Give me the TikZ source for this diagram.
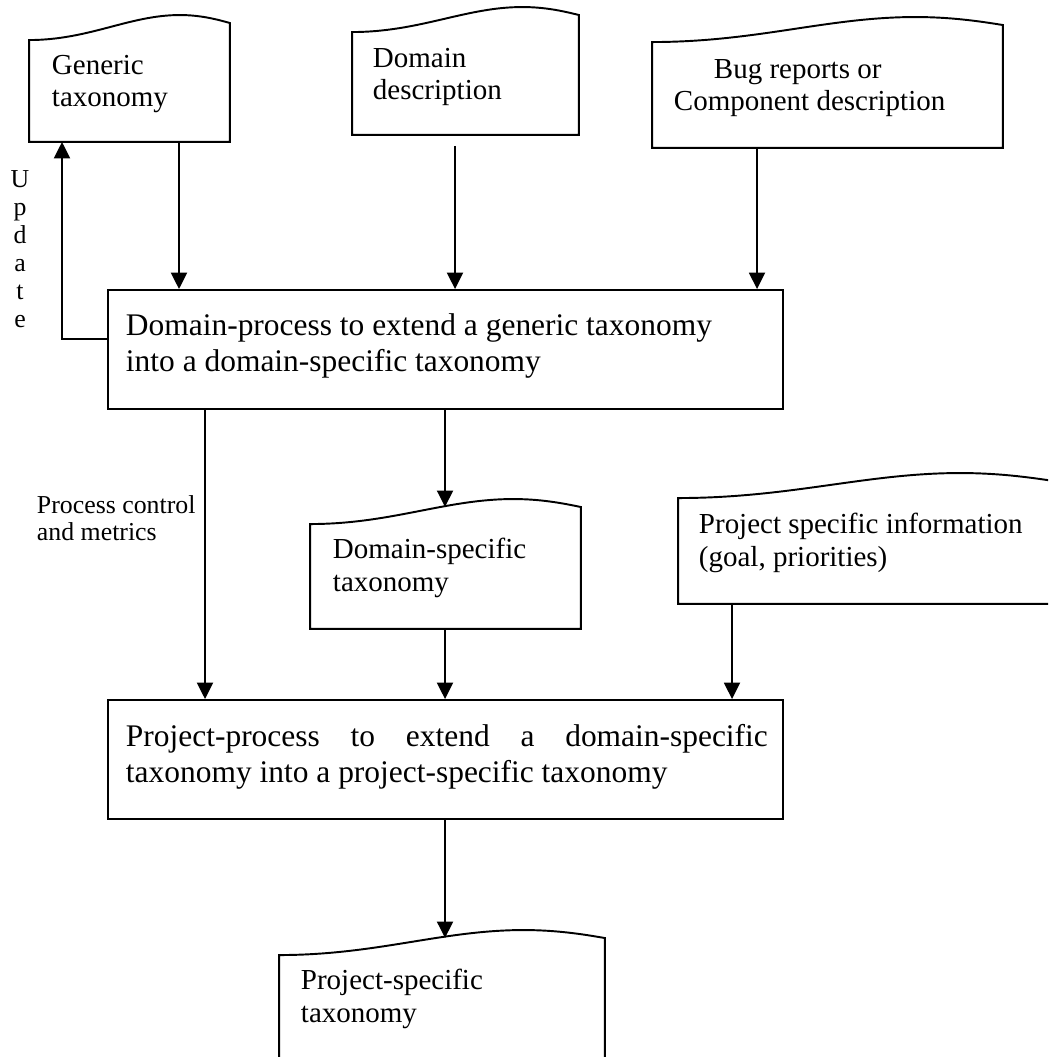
\documentclass[tikz,border=0pt]{standalone}
\usepackage{fontspec}
\setmainfont{Liberation Serif}
\usetikzlibrary{arrows.meta,calc}

% document symbol with a wavy top, drawn round an empty node
\newcommand{\doctop}[1]{%
  \draw (#1.south west) -- (#1.north west)
    .. controls ($(#1.north west)!0.3!(#1.north east)$)
           and ($(#1.north west)!0.5!(#1.north east)+(0,-25)$)
    .. ($(#1.north west)!0.75!(#1.north east)+(0,-25)$)
    .. controls ($(#1.north west)!0.85!(#1.north east)+(0,-25)$)
           and ($(#1.north west)!0.93!(#1.north east)+(0,-21)$)
    .. ($(#1.north east)+(0,-17)$) -- (#1.south east) -- cycle;}

\begin{document}
\begin{tikzpicture}[x=0.02cm,y=-0.02cm,line width=1.1pt,
    flow/.style={-{Triangle[width=0.32cm,length=0.33cm]}},
    docbody/.style={inner sep=0pt},
    procbox/.style={draw,inner sep=0pt,minimum width=13.5cm,minimum height=2.38cm},
    doctext/.style={anchor=base west,align=left,inner sep=0pt,font=\fontsize{16.5}{18.7}\selectfont},
    boxtext/.style={anchor=base west,align=left,inner sep=0pt,font=\fontsize{17.9}{20.4}\selectfont},
    smalltext/.style={anchor=base west,align=left,inner sep=0pt,font=\fontsize{14.7}{15.3}\selectfont}]

    \useasboundingbox (0,0) rectangle (1048,1057);
    \begin{scope}
        \clip (0,0) rectangle (1048,1057);

        % documents
        \node[docbody,minimum width=3.98cm,minimum height=2cm] (gen) at (129.5,91) {};
        \node[docbody,minimum width=4.5cm,minimum height=2.02cm] (ddesc) at (465.5,83.5) {};
        \node[docbody,minimum width=6.98cm,minimum height=2.08cm] (bug) at (827.5,95) {};
        \node[docbody,minimum width=5.38cm,minimum height=2.06cm] (dspec) at (445.5,576.5) {};
        \node[docbody,minimum width=7.48cm,minimum height=2.08cm] (pinfo) at (866,551) {};
        \node[docbody,minimum width=6.48cm,minimum height=2.88cm] (pspec) at (442,1028) {};

        \doctop{gen}
        \doctop{ddesc}
        \doctop{bug}
        \doctop{dspec}
        \doctop{pinfo}
        \doctop{pspec}

        % base of a two-line node is its last line
        \node[doctext] (gentxt) at (51,107) {Generic\\taxonomy};
        \node[doctext] (ddtxt) at (372,100) {Domain\\description};
        \node[doctext] (bugtxt) at (673,111) {\hspace{0.8cm}Bug reports or\\Component description};
        \node[doctext] (dstxt) at (332,591) {Domain-specific\\taxonomy};
        \node[doctext] (pitxt) at (698,566) {Project specific information\\(goal, priorities)};
        \node[doctext] (pstxt) at (300,1022) {Project-specific\\taxonomy};

        % processes
        \node[procbox] (dproc) at (445.5,349.5) {};
        \node[procbox] (pproc) at (445.5,759.5) {};

        \node[boxtext] (dptxt) at (125,371)
            {Domain-process to extend a generic taxonomy\\into a domain-specific taxonomy};
        \node[boxtext] (pptxt) at (125,782)
            {\hbox to 12.84cm{Project-process\hfill to\hfill extend\hfill a\hfill domain-specific}\\taxonomy into a project-specific taxonomy};

        \node[smalltext] (pctxt) at (36,540) {Process control\\and metrics};
        \node[smalltext,anchor=base,align=center,font=\fontsize{14.7}{15.9}\selectfont] (updtxt) at (20,327)
            {U\\p\\d\\a\\t\\e};

        % connectors
        \coordinate (xgen) at (179,0);
        \coordinate (xbug) at (757,0);
        \coordinate (xpc) at (205,0);
        \coordinate (xds) at (445,0);
        \coordinate (xpi) at (732,0);
        \coordinate (ddout) at (455,146);
        \coordinate (upd) at (62,339);
        \coordinate (dsin) at (445,507);
        \coordinate (psin) at (445,938);

        \draw[flow] (gen.south -| xgen) -- (dproc.north -| xgen);
        \draw[flow] (ddout) -- (ddout |- dproc.north);
        \draw[flow] (bug.south -| xbug) -- (dproc.north -| xbug);
        \draw[flow] (dproc.west |- upd) -- (upd) -- (upd |- gen.south);

        \draw[flow] (dproc.south -| xpc) -- (pproc.north -| xpc);
        \draw[flow] (dproc.south -| xds) -- (dsin);
        \draw[flow] (dspec.south -| xds) -- (pproc.north -| xds);
        \draw[flow] (pinfo.south -| xpi) -- (pproc.north -| xpi);
        \draw[flow] (pproc.south -| xds) -- (psin);
    \end{scope}
\end{tikzpicture}
\end{document}
